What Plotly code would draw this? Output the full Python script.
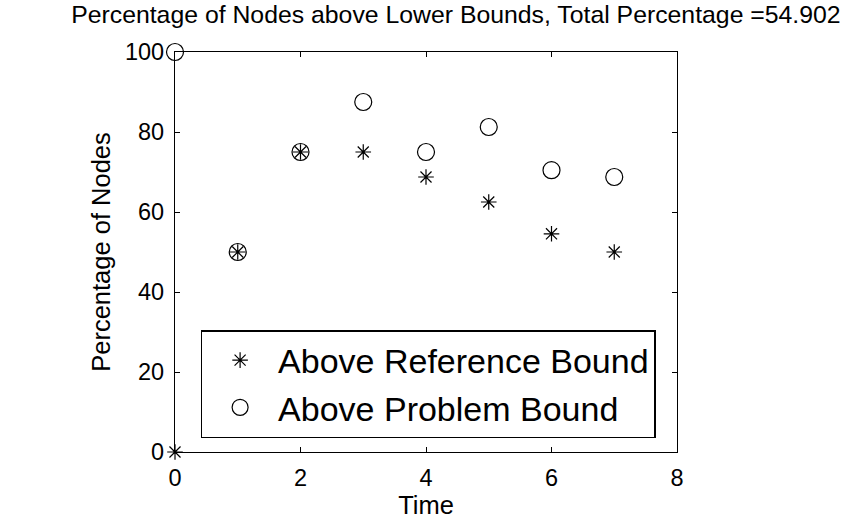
import plotly.graph_objects as go

time = [0, 1, 2, 3, 4, 5, 6, 7]
above_reference = [0, 50, 75, 75, 68.75, 62.5, 54.55, 50]
above_problem = [100, 50, 75, 87.5, 75, 81.25, 70.45, 68.75]
x_ticks = [0, 2, 4, 6, 8]
y_ticks = [0, 20, 40, 60, 80, 100]
total_pct = 54.902

FONT = "Liberation Sans, Arial, sans-serif"

fig = go.Figure()
fig.add_trace(go.Scatter(
    x=time, y=above_reference, mode="markers", name="Above Reference Bound",
    cliponaxis=False,
    marker=dict(symbol="asterisk-open", size=13, color="black",
                line=dict(color="black", width=1.2)),
))
fig.add_trace(go.Scatter(
    x=time, y=above_problem, mode="markers", name="Above Problem Bound",
    cliponaxis=False,
    marker=dict(symbol="circle-open", size=17, color="black",
                line=dict(color="black", width=1.2)),
))

axis_common = dict(
    showline=True, linecolor="black", linewidth=1.3, mirror="ticks",
    ticks="inside", ticklen=5, tickcolor="black", tickwidth=1,
    showgrid=False, zeroline=False, ticklabelstandoff=5, automargin=False,
    tickfont=dict(family=FONT, size=23.5, color="black"),
)

fig.update_layout(
    width=849, height=519,
    paper_bgcolor="white", plot_bgcolor="white",
    margin=dict(l=175, r=172, t=52, b=67, autoexpand=False),
    title=dict(
        text=f"Percentage of Nodes above Lower Bounds, Total Percentage ={total_pct}",
        x=0.537, xanchor="center", y=0.99, yanchor="top",
        font=dict(family=FONT, size=24.8, color="black"),
        automargin=False,
    ),
    xaxis=dict(axis_common, range=[0, 8], tickvals=x_ticks,
               title=dict(text="Time", font=dict(family=FONT, size=25.5, color="black"),
                          standoff=5)),
    yaxis=dict(axis_common, range=[0, 100], tickvals=y_ticks,
               title=dict(text="Percentage of Nodes",
                          font=dict(family=FONT, size=25.5, color="black"),
                          standoff=7)),
    legend=dict(
        x=0.051, y=0.305, xanchor="left", yanchor="top",
        bgcolor="white", bordercolor="black", borderwidth=1.5,
        font=dict(family=FONT, size=34, color="black"),
        itemwidth=66, tracegroupgap=0,
    ),
    showlegend=True,
)

fig.write_html("out.html")
